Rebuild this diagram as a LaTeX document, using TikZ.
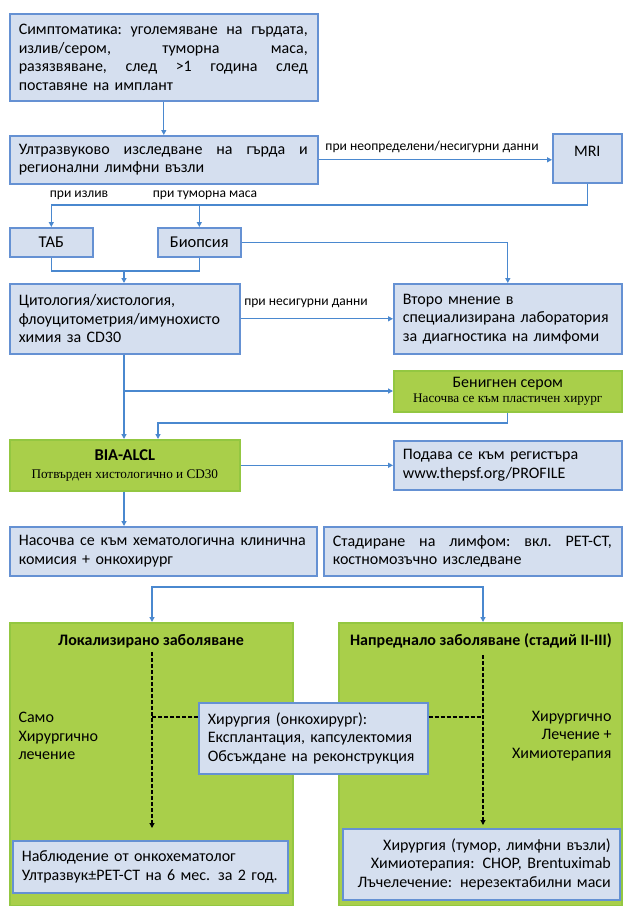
\documentclass[tikz,border=0pt]{standalone}
\usepackage{fontspec}
\setmainfont{Carlito}
\newfontfamily\serifsm{Liberation Serif}
\usetikzlibrary{arrows.meta}
\definecolor{bfill}{HTML}{D5DFEF}
\definecolor{bborder}{HTML}{6591D3}
\definecolor{lineblue}{HTML}{4A88CF}
\definecolor{gfill}{HTML}{A9CF4A}
\definecolor{gborder}{HTML}{93C741}
\newcommand\fs[1]{\fontsize{#1}{18.5}\selectfont}
\newcommand\fsmain{\fs{16}}
\newcommand\fslab{\fontsize{13.6}{15}\selectfont}
\newcommand\fsser{\fontsize{13.2}{14}\selectfont\serifsm}
\newcommand\jl[2]{\leavevmode\hbox to #1{\frenchspacing\spaceskip=0.23em plus 3em\relax #2}}
\newcommand\ml[1]{\mbox{#1}}
\tikzset{
 bbox/.style={draw=bborder, fill=bfill, line width=1.6pt, inner xsep=9pt, inner ysep=3pt, anchor=north west, align=left, font=\fsmain},
 gbox/.style={bbox, draw=gborder, fill=gfill},
 conn/.style={draw=lineblue, line width=1.3pt},
 arr/.style={conn, -{Triangle[length=5pt,width=5pt]}},
 dsh/.style={draw=black, dash pattern=on 4pt off 2pt, line width=1.1pt},
 darr/.style={dsh, -{Triangle[length=5pt,width=5pt]}},
 lbl/.style={font=\fslab, inner sep=1pt},
}
\begin{document}
\begin{tikzpicture}[x=1pt,y=-1pt]
\useasboundingbox[fill=white] (0,0) rectangle (623,906);
% big green boxes
\node[gbox, minimum width=283, minimum height=283] (local) at (9,622) {};
\node[gbox, minimum width=283, minimum height=283] (adv) at (338,622) {};
% boxes
\node[bbox, minimum width=308, minimum height=87, text width=290] (symp) at (9,13)
 {\jl{289pt}{Симптоматика: уголемяване на гърдата,}\\
  \jl{289pt}{излив/сером, туморна маса,}\\
  \jl{289pt}{разязвяване, след >1 година след}\\
  \ml{поставяне на имплант}};
\node[bbox, minimum width=308, minimum height=48, text width=290] (ultra) at (9,135)
 {\jl{289pt}{Ултразвуково изследване на гърда и}\\\ml{регионални лимфни възли}};
\node[bbox, minimum width=69, minimum height=49, align=center] (mri) at (552,133) {\raisebox{13pt}{MRI}};
\node[bbox, font=\fs{16.5}, minimum width=83, minimum height=29, align=center] (tab) at (9,227) {ТАБ};
\node[bbox, font=\fs{16.5}, minimum width=83, minimum height=29, align=center] (biop) at (157,227) {Биопсия};
\node[bbox, minimum width=230, minimum height=70, text width=212] (cyto) at (9,283)
 {\ml{Цитология/хистология,}\\\ml{флоуцитометрия/имунохисто}\\\ml{химия за CD30}};
\node[bbox, minimum width=228, minimum height=70, text width=210] (second) at (393,283)
 {\ml{Второ мнение в}\\\ml{специализирана лаборатория}\\\ml{за диагностика на лимфоми}};
\node[gbox, minimum width=228, minimum height=41, align=center] (benign) at (393,370)
 {\ml{Бенигнен сером}\\[-4pt]{\fsser Насочва се към пластичен хирург}};
\node[gbox, minimum width=230, minimum height=51, align=center] (bia) at (9,439)
 {{\fs{16.5}\bfseries BIA-ALCL}\\[0pt]{\fsser Потвърден хистологично и CD30}};
\node[bbox, minimum width=228, minimum height=49, text width=210] (podava) at (393,440)
 {\ml{Подава се към регистъра}\\\ml{www.thepsf.org/PROFILE}};
\node[bbox, minimum width=307, minimum height=49, text width=289] (nas) at (9,526)
 {\jl{287pt}{Насочва се към хематологична клинична}\\\ml{комисия + онкохирург}};
\node[bbox, minimum width=298, minimum height=49, text width=280] (stad) at (323,526)
 {\jl{279pt}{Стадиране на лимфом: вкл. PET-CT,}\\\ml{костномозъчно изследване}};
\node[bbox, minimum width=229, minimum height=71, text width=211] (surg) at (198,702)
 {\ml{Хирургия (онкохирург):}\\\ml{Експлантация, капсулектомия}\\\ml{Обсъждане на реконструкция}};
\node[bbox, minimum width=275, minimum height=52, text width=257] (obs) at (12,840)
 {\ml{Наблюдение от онкохематолог}\\\ml{Ултразвук±PET-CT на 6 мес. за 2 год.}};
\node[bbox, minimum width=277, minimum height=71, text width=259, align=right] (advb) at (342,828)
 {\ml{Хирургия (тумор, лимфни възли)}\\\ml{Химиотерапия: CHOP, Brentuximab}\\\ml{Лъчелечение: нерезектабилни маси}};
% texts in green boxes
\node[font=\fs{16}\bfseries] (ltitle) at (151,641) {Локализирано заболяване};
\node[font=\fs{16}\bfseries] (atitle) at (481,641) {Напреднало заболяване (стадий II-III)};
\node[font=\fsmain, align=left, anchor=west] (ltext) at (15,736) {Само\\Хирургично\\лечение};
\node[font=\fsmain, align=right, anchor=east] (rtext) at (615,736) {Хирургично\\Лечение +\\Химиотерапия};
% labels
\node[lbl] (l1) at (432,147) {при неопределени/несигурни данни};
\node[lbl] (l2) at (79,195) {при излив};
\node[lbl] (l3) at (205,195) {при туморна маса};
\node[lbl] (l4) at (306,303) {при несигурни данни};
% coordinates
\coordinate (yA) at (0,205);
\coordinate (jB) at (124,271);
\coordinate (jC) at (124,391);
\coordinate (jD) at (158,423);
\coordinate (jE) at (152,587);
\coordinate (jF) at (483,587);
\coordinate (dL1) at (152,652);
\coordinate (dR1) at (483,655);
\coordinate (dL2) at (152,717);
\coordinate (dR2) at (483,717);
% connectors
\draw[arr] (symp.south) -- (ultra.north);
\draw[arr] (ultra.east) -- (mri.west |- ultra.east);
\draw[arr] (mri.south) |- (tab.north |- yA) -- (tab.north);
\draw[arr] (biop.north |- yA) -- (biop.north);
\draw[conn] (tab.south) |- (jB) -| (biop.south);
\draw[arr] (jB) -- (cyto.north -| jB);
\draw[arr] (biop.east) -| (second.north);
\draw[arr] (cyto.east) -- (second.west |- cyto.east);
\draw[arr] (cyto.south -| jB) -- (bia.north -| jB);
\draw[arr] (jC) -- (benign.west |- jC);
\draw[arr] (benign.south) |- (jD) -- (bia.north -| jD);
\draw[arr] (bia.east) -- (podava.west |- bia.east);
\draw[arr] (bia.south -| jB) -- (nas.north -| jB);
\draw[conn, {Triangle[length=5pt,width=5pt]}-{Triangle[length=5pt,width=5pt]}] (local.north -| jE) -- (jE) -- (jF) -- (adv.north -| jF);
% dashed
\draw[darr, shorten >=12pt] (dL1) -- (obs.north -| dL1);
\draw[darr, shorten >=3pt] (dR1) -- (advb.north -| dR1);
\draw[dsh] (surg.west |- dL2) -- (dL2);
\draw[dsh] (surg.east |- dR2) -- (dR2);
\end{tikzpicture}
\end{document}
